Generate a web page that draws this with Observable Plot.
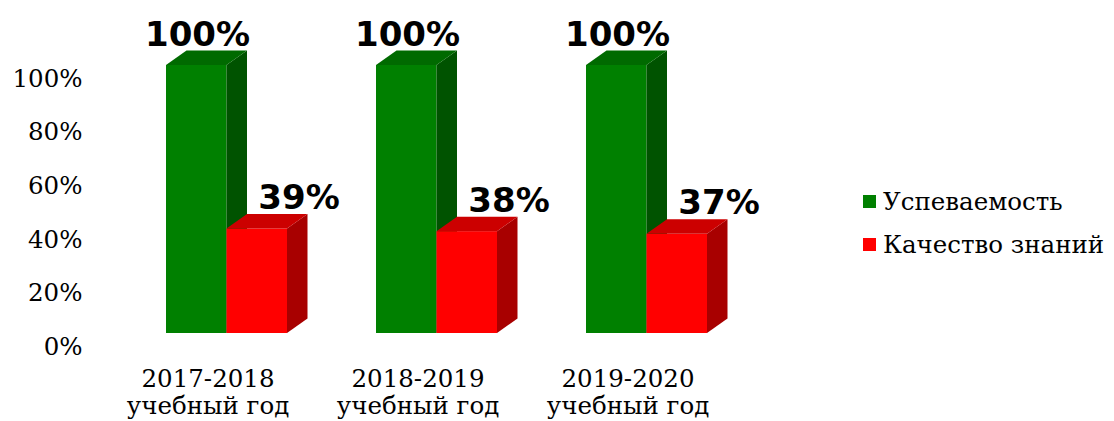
<!DOCTYPE html>
<html>
<head>
<meta charset="utf-8">
<script src="https://cdn.jsdelivr.net/npm/d3@7"></script>
<script src="https://cdn.jsdelivr.net/npm/@observablehq/plot@0.6"></script>
<style>
  html, body { margin: 0; padding: 0; background: #fff; }
  #wrap { position: relative; width: 1114px; height: 421px; overflow: hidden; }
  #legend { position: absolute; left: 863px; top: 180px; font-family: "DejaVu Serif", serif; font-size: 24.5px; color: #000; }
  #legend .item { display: flex; align-items: center; height: 43px; white-space: nowrap; }
  #legend .sw { width: 13px; height: 13px; margin-right: 7px; flex: none; }
</style>
</head>
<body>
<div id="wrap"><div id="legend"></div></div>
<script>
const years = ["2017-2018", "2018-2019", "2019-2020"];
const yearSuffix = "учебный год";
const seriesNames = ["Успеваемость", "Качество знаний"];
const uspevaemost = [100, 100, 100];
const kachestvo = [39, 38, 37];
const yTicks = [0, 20, 40, 60, 80, 100];

const colors = {
  "Успеваемость": {front: "#008000", top: "#006a00", side: "#005300"},
  "Качество знаний": {front: "#ff0000", top: "#cc0000", side: "#a80000"}
};

const rows = [];
years.forEach((y, i) => {
  rows.push({year: y, series: seriesNames[0], value: uspevaemost[i]});
  rows.push({year: y, series: seriesNames[1], value: kachestvo[i]});
});
const green = rows.filter(d => d.series === seriesNames[0]);
const red = rows.filter(d => d.series === seriesNames[1]);

const W = 1114, H = 421;
const DX = 20.5, DY = -14.5;

function depthMark(data, name) {
  return (index, scales, values, dimensions) => {
    const g = d3.create("svg:g");
    const xs = scales.x, ys = scales.y;
    const bw = xs.bandwidth ? xs.bandwidth() : 121;
    const half = bw / 2;
    const c = colors[name];
    data.forEach(d => {
      const x0 = xs(d.year) + (name === seriesNames[0] ? 0 : half);
      const x1 = x0 + half;
      const yt = ys(d.value), yb = ys(0);
      g.append("path")
        .attr("d", `M${x1},${yt}L${x1 + DX},${yt + DY}L${x1 + DX},${yb + DY}L${x1},${yb}Z`)
        .attr("fill", c.side);
      g.append("path")
        .attr("d", `M${x0},${yt}L${x0 + DX},${yt + DY}L${x1 + DX},${yt + DY}L${x1},${yt}Z`)
        .attr("fill", c.top);
    });
    return g.node();
  };
}

const chart = Plot.plot({
  width: W,
  height: H,
  marginTop: 65,
  marginBottom: 88,
  marginLeft: 166,
  marginRight: 407,
  x: {domain: years, paddingInner: 89 / 210, paddingOuter: 0, axis: null},
  y: {domain: [0, 100], axis: null},
  style: {background: "transparent", overflow: "visible"},
  marks: [
    Plot.barY(green, {x: "year", y: "value", fill: colors[seriesNames[0]].front, insetRight: 60.5}),
    depthMark(green, seriesNames[0]),
    Plot.barY(red, {x: "year", y: "value", fill: colors[seriesNames[1]].front, insetLeft: 60.5}),
    depthMark(red, seriesNames[1]),
    Plot.text(yTicks, {
      y: d => d, text: d => d + "%", frameAnchor: "left", textAnchor: "end",
      dx: -84, dy: 13.5, fontFamily: "DejaVu Serif", fontSize: 24.5, fill: "#000"
    }),
    Plot.text(years, {
      x: d => d, text: d => d + "\n" + yearSuffix, frameAnchor: "bottom", lineAnchor: "bottom",
      dx: -19, dy: 80, lineHeight: 1.1, fontFamily: "DejaVu Serif", fontSize: 24.5, fill: "#000"
    }),
    Plot.text(green, {
      x: "year", y: "value", text: d => d.value + "%", lineAnchor: "bottom",
      dx: -29.5, dy: -20, fontFamily: "DejaVu Sans", fontWeight: "bold", fontSize: 34, fill: "#000"
    }),
    Plot.text(red, {
      x: "year", y: "value", text: d => d.value + "%", lineAnchor: "bottom",
      dx: 72, dy: -20, fontFamily: "DejaVu Sans", fontWeight: "bold", fontSize: 34, fill: "#000"
    })
  ]
});

const wrap = document.getElementById("wrap");
wrap.insertBefore(chart, wrap.firstChild);

const legend = document.getElementById("legend");
seriesNames.forEach(n => {
  const it = document.createElement("div");
  it.className = "item";
  const sw = document.createElement("span");
  sw.className = "sw";
  sw.style.background = colors[n].front;
  const tx = document.createElement("span");
  tx.textContent = n;
  it.appendChild(sw);
  it.appendChild(tx);
  legend.appendChild(it);
});
</script>
</body>
</html>
